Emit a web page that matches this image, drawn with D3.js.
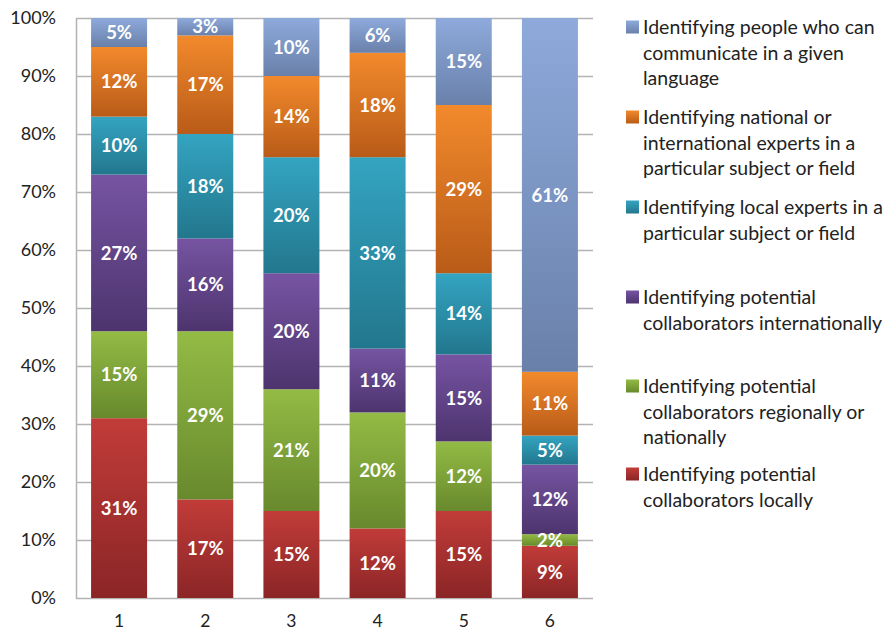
<!DOCTYPE html>
<html>
<head>
<meta charset="utf-8">
<script src="https://cdn.jsdelivr.net/npm/d3@7"></script>
<style>
  html, body { margin: 0; padding: 0; background: #fff; }
  svg { display: block; }
  text { font-family: Lato, "Liberation Sans", sans-serif; }
</style>
</head>
<body>
<svg id="chart" width="891" height="633"></svg>
<script>
// Categories along the x axis
const categories = ["1", "2", "3", "4", "5", "6"];

// Series, bottom of the stack first (percent of each column)
const seriesNames = [
  "Identifying potential collaborators locally",
  "Identifying potential collaborators regionally or nationally",
  "Identifying potential collaborators internationally",
  "Identifying local experts in a particular subject or field",
  "Identifying national or international experts in a particular subject or field",
  "Identifying people who can communicate in a given language"
];
const locally       = [31, 17, 15, 12, 15, 9];
const regionally    = [15, 29, 21, 20, 12, 2];
const internationally = [27, 16, 20, 11, 15, 12];
const localExperts  = [10, 18, 20, 33, 14, 5];
const nationalExperts = [12, 17, 14, 18, 29, 11];
const language      = [5, 3, 10, 6, 15, 61];
const seriesValues = [locally, regionally, internationally, localExperts, nationalExperts, language];

// Legend text, top to bottom, already wrapped into lines
const legendLines = [
  ["Identifying people who can", "communicate in a given", "language"],
  ["Identifying national or", "international experts in a", "particular subject or field"],
  ["Identifying local experts in a", "particular subject or field"],
  ["Identifying potential", "collaborators internationally"],
  ["Identifying potential", "collaborators regionally or", "nationally"],
  ["Identifying potential", "collaborators locally"]
];
const legendSeriesIndex = [5, 4, 3, 2, 1, 0];

const yTicks = [0, 10, 20, 30, 40, 50, 60, 70, 80, 90, 100];

// Gradient stops per series (top, bottom)
const palette = [
  ["#c13c39", "#8b2526"],
  ["#93bb45", "#68892d"],
  ["#7654a2", "#4d346e"],
  ["#34a4c1", "#22778d"],
  ["#f28a2c", "#b95b18"],
  ["#8eaadb", "#6980aa"]
];

const svg = d3.select("#chart");
const margin = { left: 76, right: 298, top: 18, bottom: 35 };
const W = 891, H = 633;
const x0 = margin.left, x1 = W - margin.right;
const y0 = H - margin.bottom, y1 = margin.top;

const x = d3.scaleBand().domain(categories).range([x0, x1]).paddingInner(0.35).paddingOuter(0.175);
const y = d3.scaleLinear().domain([0, 100]).range([y0, y1]);

// gradients
const defs = svg.append("defs");
palette.forEach((c, i) => {
  const g = defs.append("linearGradient").attr("id", "grad" + i)
    .attr("x1", 0).attr("y1", 0).attr("x2", 0).attr("y2", 1);
  g.append("stop").attr("offset", "0%").attr("stop-color", c[0]);
  g.append("stop").attr("offset", "100%").attr("stop-color", c[1]);
});

// gridlines
svg.append("g").selectAll("line").data(yTicks).join("line")
  .attr("x1", x0).attr("x2", x1)
  .attr("y1", d => Math.round(y(d)) + 0.5).attr("y2", d => Math.round(y(d)) + 0.5)
  .attr("stroke", "#b3b3b3").attr("stroke-width", 1.3);

// left axis line
svg.append("line").attr("x1", x0 + 0.5).attr("x2", x0 + 0.5)
  .attr("y1", y1).attr("y2", y0 + 1)
  .attr("stroke", "#b3b3b3").attr("stroke-width", 1.5);

// y tick labels
svg.append("g").selectAll("text").data(yTicks).join("text")
  .attr("x", 56).attr("y", d => y(d))
  .attr("dy", "0.36em").attr("text-anchor", "end")
  .attr("font-size", 18).attr("fill", "#222")
  .text(d => d + "%");

// x tick labels
svg.append("g").selectAll("text").data(categories).join("text")
  .attr("x", d => x(d) + x.bandwidth() / 2).attr("y", 627)
  .attr("text-anchor", "middle")
  .attr("font-size", 17.5).attr("fill", "#222")
  .text(d => d);

// stacked data
const table = categories.map((c, j) => {
  const row = { cat: c };
  seriesValues.forEach((s, i) => row["s" + i] = s[j]);
  return row;
});
const keys = seriesValues.map((s, i) => "s" + i);
const stacked = d3.stack().keys(keys)(table);

const layers = svg.append("g").selectAll("g").data(stacked).join("g")
  .attr("fill", (d, i) => `url(#grad${i})`);

layers.selectAll("rect").data(d => d).join("rect")
  .attr("x", d => x(d.data.cat))
  .attr("width", x.bandwidth())
  .attr("y", d => y(d[1]))
  .attr("height", d => y(d[0]) - y(d[1]));

// value labels
const labelG = svg.append("g");
stacked.forEach((layer, i) => {
  layer.forEach(d => {
    const v = d[1] - d[0];
    labelG.append("text")
      .attr("x", x(d.data.cat) + x.bandwidth() / 2)
      .attr("y", (y(d[0]) + y(d[1])) / 2)
      .attr("dy", "0.36em").attr("text-anchor", "middle")
      .attr("font-size", 18.5).attr("font-weight", "bold").attr("fill", "#fff")
      .text(v + "%");
  });
});

// legend
const legendTops = [27, 117, 207, 297, 386, 474];
const lineH = 25.5;
const leg = svg.append("g");
legendLines.forEach((lines, k) => {
  const si = legendSeriesIndex[k];
  const cy = legendTops[k];
  leg.append("rect").attr("x", 626).attr("y", cy - 6.5).attr("width", 13).attr("height", 13)
    .attr("fill", `url(#grad${si})`);
  lines.forEach((ln, li) => {
    leg.append("text").attr("x", 643).attr("y", cy + li * lineH)
      .attr("dy", "0.36em").attr("font-size", 19.5).attr("fill", "#222")
      .text(ln);
  });
});
</script>
</body>
</html>
